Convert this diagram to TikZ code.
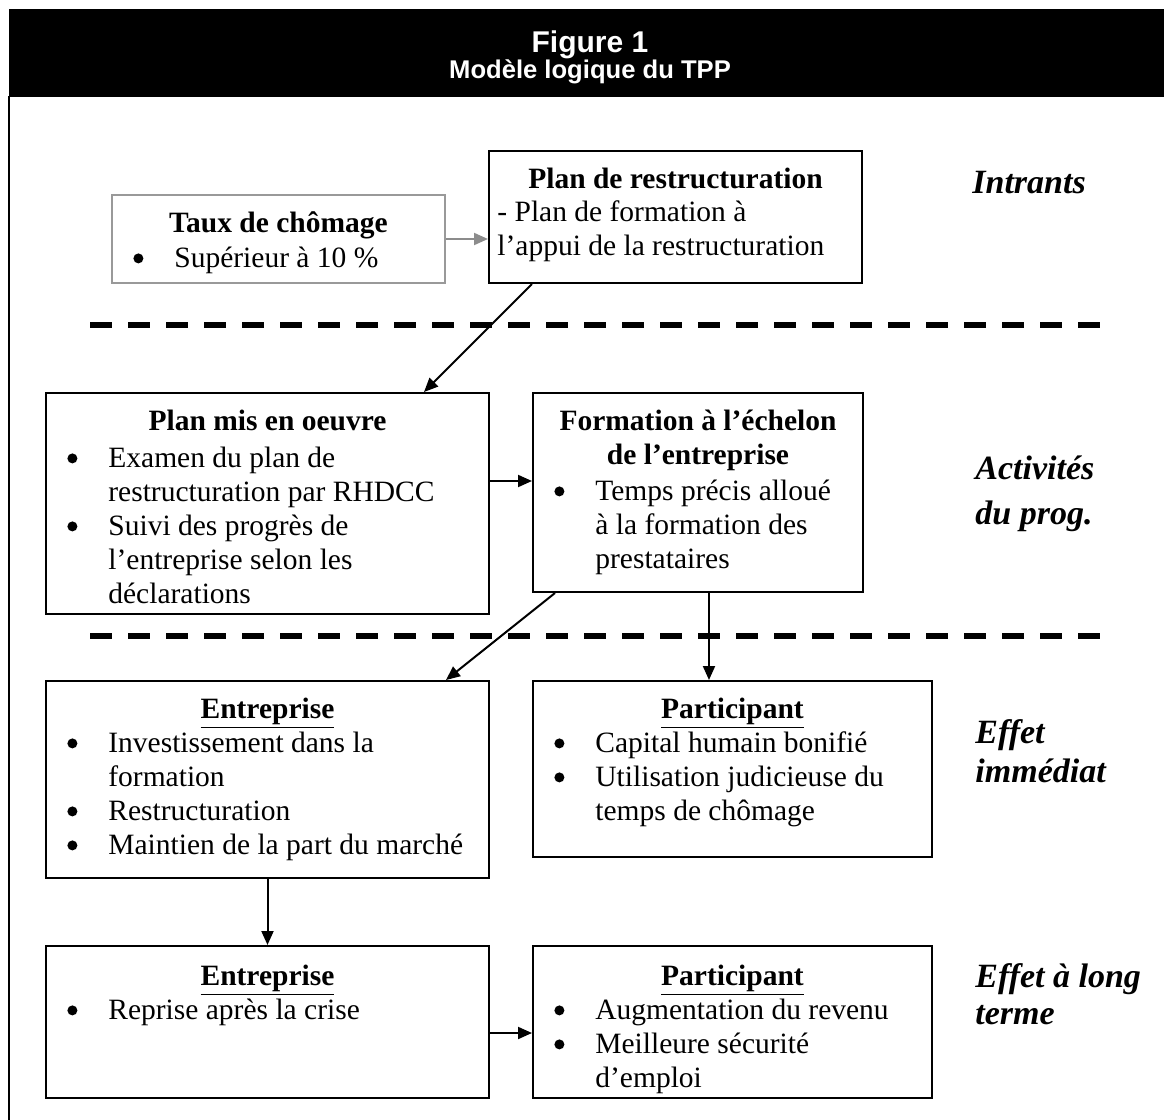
\documentclass[tikz,border=0pt]{standalone}
\usepackage{fontspec}
\setmainfont{Liberation Serif}
\newfontfamily\hdrfont{Liberation Sans}
\usetikzlibrary{arrows.meta,calc,fit}
\newcommand{\bodyfs}{\fontsize{14.75}{17}\selectfont}
\newcommand{\bdot}{\tikz[baseline=0pt,x=1pt,y=1pt]\fill (0,4.5) circle (2.5);}
\newcommand{\blt}{\makebox[31pt][l]{\hspace{10.5pt}\bdot}}
\newcommand{\ind}{\hspace*{31pt}}
\tikzset{
  box/.style={draw, line width=1pt, inner sep=0pt},
  gbox/.style={draw=black!40, line width=1pt, inner sep=0pt},
  arr/.style={line width=1pt, -{Triangle[length=7pt,width=6pt]}},
  garr/.style={arr, draw=black!45},
  ttl/.style={font=\bodyfs\bfseries, anchor=base, inner sep=0pt},
  lst/.style={font=\bodyfs, anchor=north west, align=left, inner sep=0pt},
  lab/.style={font=\fontsize{17}{19.5}\selectfont\bfseries\itshape, anchor=base west, inner sep=0pt},
  dashline/.style={line width=3pt, dash pattern=on 11pt off 8pt},
}
\begin{document}
\begin{tikzpicture}[x=0.5pt,y=-0.5pt]
\useasboundingbox (0,0) rectangle (1164,1120);
% header
\fill[black] (9,9) rectangle (1164,97);
\draw[line width=1pt] (9,96) -- (9,1120);
\node[font=\hdrfont\fontsize{15}{17}\selectfont\bfseries, text=white, anchor=base, inner sep=0pt] (fig) at (590,52) {Figure 1};
\node[font=\hdrfont\fontsize{12.8}{15}\selectfont\bfseries, text=white, anchor=base, inner sep=0pt] (sub) at (590,78) {Modèle logique du TPP};

% boxes
\node[gbox, fit={(112,195) (445,283)}] (taux) {};
\node[box, fit={(489,151) (862,283)}] (plan) {};
\node[box, fit={(46,393) (489,614)}] (pmo) {};
\node[box, fit={(533,393) (863,592)}] (form) {};
\node[box, fit={(46,681) (489,878)}] (ent) {};
\node[box, fit={(533,681) (932,857)}] (part) {};
\node[box, fit={(46,946) (489,1098)}] (ent2) {};
\node[box, fit={(533,946) (932,1098)}] (part2) {};

% texts
\node[ttl] (tauxT) at (278.5,232) {Taux de chômage};
\node[lst] (tauxL) at (112,243.2) {\strut\blt Supérieur à 10 \%};

\node[ttl] (planT) at (675.5,188) {Plan de restructuration};
\node[lst] (planL) at (497,197.2) {\strut- Plan de formation à\\l’appui de la restructuration};

\node[ttl] (pmoT) at (267.5,430) {Plan mis en oeuvre};
\node[lst] (pmoL) at (46,443.2) {\strut\blt Examen du plan de\\\ind restructuration par RHDCC\\\blt Suivi des progrès de\\\ind l’entreprise selon les\\\ind déclarations};

\node[ttl] (formT1) at (698,430) {Formation à l’échelon};
\node[ttl] (formT2) at (698,464) {de l’entreprise};
\node[lst] (formL) at (533,476.2) {\strut\blt Temps précis alloué\\\ind à la formation des\\\ind prestataires};

\node[ttl] (entT) at (267.5,718) {\underline{Entreprise}};
\node[lst] (entL) at (46,728.2) {\strut\blt Investissement dans la\\\ind formation\\\blt Restructuration\\\blt Maintien de la part du marché};

\node[ttl] (partT) at (732.5,718) {\underline{Participant}};
\node[lst] (partL) at (533,728.2) {\strut\blt Capital humain bonifié\\\blt Utilisation judicieuse du\\\ind temps de chômage};

\node[ttl] (ent2T) at (267.5,985) {\underline{Entreprise}};
\node[lst] (ent2L) at (46,995.2) {\strut\blt Reprise après la crise};

\node[ttl] (part2T) at (732.5,985) {\underline{Participant}};
\node[lst] (part2L) at (533,995.2) {\strut\blt Augmentation du revenu\\\blt Meilleure sécurité\\\ind d’emploi};

% side labels
\node[lab] (lab1) at (972,193) {Intrants};
\node[lab] (lab2a) at (975,479) {Activités};
\node[lab] (lab2b) at (975,524) {du prog.};
\node[lab] (lab3a) at (975,743) {Effet};
\node[lab] (lab3b) at (975,782) {immédiat};
\node[lab] (lab4a) at (975,987) {Effet à long};
\node[lab] (lab4b) at (975,1024) {terme};

% dashed separators
\draw[dashline] (90,325) -- (1110,325);
\draw[dashline] (90,636) -- (1110,636);

% connectors
\draw[garr] (taux.east) -- (taux.east -| plan.west);
\draw[arr] ($(plan.south west)+(44,0)$) -- ($(pmo.north east)+(-66,0)$);
\draw[arr] ($(pmo.north east)+(0,89)$) -- ($(form.north west)+(0,89)$);
\draw[arr] ($(form.south west)+(23,0)$) -- ($(ent.north east)+(-44,0)$);
\draw[arr] ($(form.south west)+(177,0)$) -- ($(part.north west)+(177,0)$);
\draw[arr] (ent.south) -- (ent2.north);
\draw[arr] ($(ent2.north east)+(0,88)$) -- ($(part2.north west)+(0,88)$);
\end{tikzpicture}
\end{document}
